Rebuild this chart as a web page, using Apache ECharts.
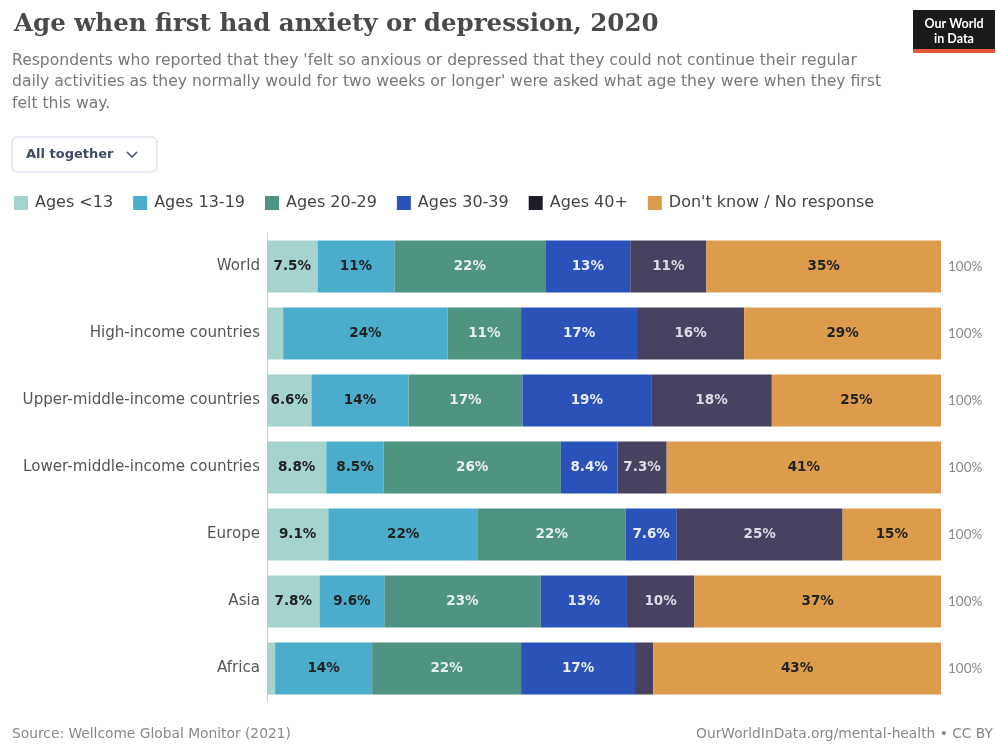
<!DOCTYPE html>
<html>
<head>
<meta charset="utf-8">
<script src="https://cdn.jsdelivr.net/npm/echarts@6/dist/echarts.min.js"></script>
<style>
html,body{margin:0;padding:0;background:#fff;}
#chart{width:997px;height:744px;}
</style>
</head>
<body>
<div id="chart"></div>
<script>
const categories = ['World','High-income countries','Upper-middle-income countries','Lower-middle-income countries','Europe','Asia','Africa'];
const seriesNames = ['Ages <13','Ages 13-19','Ages 20-29','Ages 30-39','Ages 40+',"Don't know / No response"];
const agesUnder13 = [7.5, 2.4, 6.6, 8.8, 9.1, 7.8, 1.2];
const ages13to19 = [11.4, 24.4, 14.4, 8.5, 22.2, 9.6, 14.4];
const ages20to29 = [22.4, 10.9, 16.9, 26.3, 21.9, 23.2, 22.1];
const ages30to39 = [12.6, 17.2, 19.1, 8.4, 7.6, 12.8, 16.9];
const ages40plus = [11.3, 15.9, 17.9, 7.3, 24.6, 10.0, 2.7];
const dontKnow = [34.8, 29.2, 25.1, 40.7, 14.6, 36.6, 42.7];

const seriesData = [agesUnder13, ages13to19, ages20to29, ages30to39, ages40plus, dontKnow];
const colors = ['#a5d4cf','#4badcb','#4f9483','#2a52b8','#47425f','#dc9c4c'];
const legendColors = ['#a5d4cf','#4badcb','#4f9483','#2a52b8','#1e1c26','#dc9c4c'];
const labelColors = ['#222','#222','#e6eeee','#e8ecf6','#dcdce6','#222'];
const totals = categories.map((c,i)=>seriesData.reduce((s,arr)=>s+arr[i],0));

function fmt(v){
  if (v < 3) return '';
  return (v >= 9.95 ? Math.round(v) : v.toFixed(1)) + '%';
}

const chart = echarts.init(document.getElementById('chart'));
const font = '"DejaVu Sans", Lato, sans-serif';
chart.setOption({
  animation:false,
  textStyle:{fontFamily:font},
  title:[
    {text:'Age when first had anxiety or depression, 2020', left:14, top:12, padding:0,
     textStyle:{fontFamily:'"DejaVu Serif", "Liberation Serif", serif', fontSize:24.5, fontWeight:'bold', color:'#4a4a4a'}},
    {text:"Respondents who reported that they 'felt so anxious or depressed that they could not continue their regular\ndaily activities as they normally would for two weeks or longer' were asked what age they were when they first\nfelt this way.",
     left:12, top:50, padding:0, textStyle:{fontFamily:font, fontSize:15.6, fontWeight:'normal', color:'#777', lineHeight:21.5}},
    {text:'Source: Wellcome Global Monitor (2021)', left:12, top:727, padding:0, textStyle:{fontFamily:font, fontSize:13.8, fontWeight:'normal', color:'#888'}},
    {text:'OurWorldInData.org/mental-health • CC BY', right:4, top:727, padding:0, textStyle:{fontFamily:font, fontSize:13.8, fontWeight:'normal', color:'#888'}}
  ],
  graphic:[
    {type:'rect', shape:{x:913,y:10,width:82,height:42}, style:{fill:'#1a1a1a'}},
    {type:'rect', shape:{x:913,y:49,width:82,height:4}, style:{fill:'#e4573a'}},
    {type:'text', style:{x:954,y:31,text:'Our World\nin Data', fill:'#fff', font:'bold 12.5px Lato, sans-serif', align:'center', verticalAlign:'middle', lineHeight:15}},
    {type:'rect', shape:{x:12,y:137,width:145,height:35,r:5}, style:{fill:'#fff', stroke:'#c9d3e6', lineWidth:1}},
    {type:'text', style:{x:26,y:155,text:'All together', fill:'#3f4a64', font:'bold 13px '+font, verticalAlign:'middle'}},
    {type:'polyline', shape:{points:[[127,152],[132,157],[137,152]]}, style:{stroke:'#3f4a64', lineWidth:1.5, fill:null}}
  ],
  legend:{
    left:14, top:195, padding:0, itemWidth:14, itemHeight:14, itemGap:20, icon:'rect',
    textStyle:{fontFamily:font, fontSize:16, color:'#444', padding:[0,0,0,2]},
    data:seriesNames.map((n,k)=>({name:n, itemStyle:{color:legendColors[k]}}))
  },
  grid:{left:267, right:56, top:233, bottom:42},
  xAxis:{type:'value', min:0, max:100, show:false},
  yAxis:[
    {type:'category', data:categories, inverse:true,
     axisLine:{show:true, lineStyle:{color:'#cccccc'}}, axisTick:{show:false},
     axisLabel:{fontFamily:font, fontSize:15.1, color:'#555', margin:7}},
    {type:'category', data:totals.map(t=>Math.round(t)+'%'), inverse:true, position:'right',
     axisLine:{show:false}, axisTick:{show:false},
     axisLabel:{fontFamily:'Lato, sans-serif', fontSize:13.5, color:'#888', margin:7}}
  ],
  series: seriesNames.map((name,k)=>({
    name:name, type:'bar', stack:'total', barWidth:52,
    data:seriesData[k],
    itemStyle:{color:colors[k]},
    label:{show:true, position:'inside', fontFamily:font, fontSize:13.5, fontWeight:'bold', color:labelColors[k],
      formatter:p=>fmt(p.value)}
  }))
});
</script>
</body>
</html>
